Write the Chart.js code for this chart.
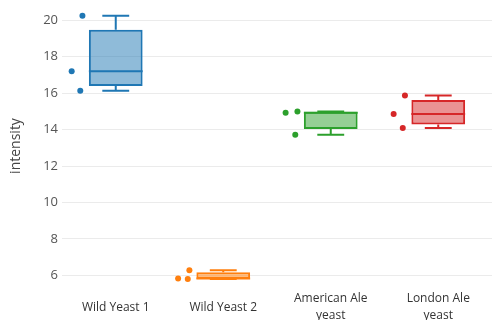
<!DOCTYPE html>
<html>
<head>
<meta charset="utf-8">
<script src="https://cdn.jsdelivr.net/npm/chart.js@4/dist/chart.umd.min.js"></script>
<style>
  html, body { margin: 0; padding: 0; background: #fff; }
  #wrap { width: 496px; height: 320px; position: relative; }
</style>
</head>
<body>
<div id="wrap"><canvas id="c"></canvas></div>
<script>
// Yeast strains and their tick labels (multi-line where the label wraps)
const categories = ['Wild Yeast 1', 'Wild Yeast 2', 'American Ale yeast', 'London Ale yeast'];
const tickLabels = [['Wild Yeast 1'], ['Wild Yeast 2'], ['American Ale', 'yeast'], ['London Ale', 'yeast']];

// Box statistics per strain
const whiskerLow  = [16.14, 5.80, 13.72, 14.09];
const q1          = [16.40, 5.805, 14.04, 14.28];
const medians     = [17.20, 5.82, 14.93, 14.86];
const q3          = [19.49, 6.16, 14.975, 15.62];
const whiskerHigh = [20.26, 6.28, 14.99, 15.87];

// Individual measurements shown beside each box, with their horizontal jitter
const points = [[20.26, 17.20, 16.14], [5.82, 5.80, 6.28], [14.93, 14.99, 13.72], [15.87, 14.86, 14.09]];
const jitter = [[-0.31, -0.41, -0.33], [-0.42, -0.33, -0.315], [-0.42, -0.31, -0.33], [-0.31, -0.415, -0.33]];

const yTicks = [6, 8, 10, 12, 14, 16, 18, 20];
const colors = ['#1f77b4', '#ff7f0e', '#2ca02c', '#d62728'];

function withAlpha(hex, a) {
  const n = parseInt(hex.slice(1), 16);
  return `rgba(${(n >> 16) & 255},${(n >> 8) & 255},${n & 255},${a})`;
}

// Draws whiskers, caps and median lines on top of the floating-bar boxes
const boxWhiskers = {
  id: 'boxWhiskers',
  afterDatasetsDraw(chart) {
    const meta = chart.getDatasetMeta(0);
    const y = chart.scales.y;
    const ctx = chart.ctx;
    const px = v => y.getPixelForValue(v);
    ctx.save();
    ctx.lineWidth = 2;
    meta.data.forEach((bar, i) => {
      const cx = bar.x;
      const half = bar.width / 2;
      const cap = bar.width / 4;
      ctx.strokeStyle = colors[i];
      ctx.beginPath();
      ctx.moveTo(cx, px(q3[i]));          ctx.lineTo(cx, px(whiskerHigh[i]));
      ctx.moveTo(cx - cap, px(whiskerHigh[i])); ctx.lineTo(cx + cap, px(whiskerHigh[i]));
      ctx.moveTo(cx, px(q1[i]));          ctx.lineTo(cx, px(whiskerLow[i]));
      ctx.moveTo(cx - cap, px(whiskerLow[i]));  ctx.lineTo(cx + cap, px(whiskerLow[i]));
      ctx.moveTo(cx - half, px(medians[i]));    ctx.lineTo(cx + half, px(medians[i]));
      ctx.stroke();
    });
    ctx.restore();
  }
};

const boxDataset = {
  type: 'bar',
  xAxisID: 'x',
  grouped: false,
  data: categories.map((_, i) => [q1[i], q3[i]]),
  backgroundColor: colors.map(c => withAlpha(c, 0.5)),
  borderColor: colors,
  borderWidth: 2,
  borderSkipped: false,
  barPercentage: 0.5,
  categoryPercentage: 1
};

const pointDatasets = points.map((vals, i) => ({
  type: 'scatter',
  xAxisID: 'x2',
  data: vals.map((v, k) => ({ x: i + jitter[i][k], y: v })),
  backgroundColor: colors[i],
  borderWidth: 0,
  pointRadius: 3
}));

new Chart(document.getElementById('c'), {
  type: 'bar',
  data: { labels: categories, datasets: [boxDataset, ...pointDatasets] },
  plugins: [boxWhiskers],
  options: {
    responsive: true,
    maintainAspectRatio: false,
    animation: false,
    layout: { padding: { top: 3.6, right: 0, bottom: 0, left: 0 } },
    plugins: { legend: { display: false }, tooltip: { enabled: false } },
    scales: {
      x: {
        type: 'category',
        offset: true,
        grid: { display: false, drawTicks: false },
        border: { display: false },
        ticks: {
          autoSkip: false,
          maxRotation: 0,
          crossAlign: 'center',
          padding: 11,
          color: '#333',
          font: { family: 'Open Sans', size: 12, lineHeight: 1.35 },
          callback: (v, i) => tickLabels[i]
        },
        afterFit(axis) { axis.paddingLeft = 0; axis.paddingRight = 0; axis.height = 32; }
      },
      x2: { type: 'linear', min: -0.5, max: 3.5, offset: false, display: false },
      y: {
        min: 5.3,
        max: 20.9,
        afterBuildTicks(axis) { axis.ticks = yTicks.map(v => ({ value: v })); },
        grid: { color: '#ebebeb', drawTicks: false },
        border: { display: false },
        ticks: { padding: 4, color: '#555', font: { family: 'Open Sans', size: 13 } },
        title: {
          display: true,
          text: 'intensity',
          color: '#444',
          padding: { top: 7.6, bottom: 0 },
          font: { family: 'Open Sans', size: 14, lineHeight: 1.2 }
        },
        afterFit(axis) { axis.width = 62; axis.paddingTop = 0; axis.paddingBottom = 0; }
      }
    }
  }
});
</script>
</body>
</html>
